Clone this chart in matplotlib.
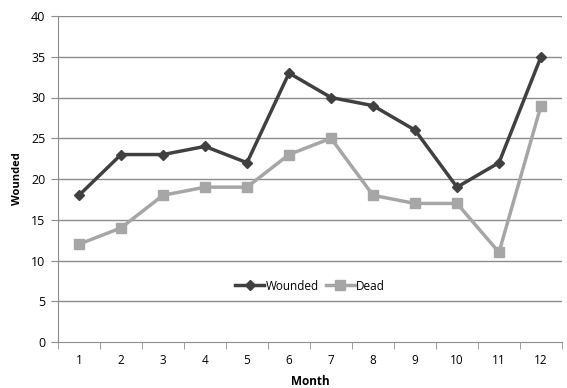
import numpy as np
import matplotlib.pyplot as plt

plt.rcParams['font.family'] = ['Open Sans', 'DejaVu Sans']

# Data
months = [1, 2, 3, 4, 5, 6, 7, 8, 9, 10, 11, 12]
wounded = [18, 23, 23, 24, 22, 33, 30, 29, 26, 19, 22, 35]
dead = [12, 14, 18, 19, 19, 23, 25, 18, 17, 17, 11, 29]
yticks = [0, 5, 10, 15, 20, 25, 30, 35, 40]

fig = plt.figure(figsize=(5.67, 3.88), dpi=100)
ax = fig.add_axes([58 / 567, 1 - 342 / 388, 504 / 567, 326 / 388])

grid_col = '#8c8c8c'
for y in yticks[1:]:
    ax.axhline(y, color=grid_col, lw=1.0, zorder=1)

ax.plot(months, wounded, color='#404040', lw=2.5, marker='D', ms=5.5,
        label='Wounded', zorder=3)
ax.plot(months, dead, color='#a6a6a6', lw=2.5, marker='s', ms=7,
        label='Dead', zorder=2)

ax.set_xlim(0.5, 12.5)
ax.set_ylim(0, 40)
ax.set_yticks(yticks)
ax.set_xticks(months)
ax.set_xticks(np.arange(0.5, 13, 1), minor=True)
ax.tick_params(axis='x', which='major', length=0, pad=9, labelsize=8.5)
ax.tick_params(axis='x', which='minor', length=5, color=grid_col, direction='out')
ax.tick_params(axis='y', length=5, color=grid_col, pad=4, labelsize=9)

for side in ['top', 'right']:
    ax.spines[side].set_visible(False)
for side in ['left', 'bottom']:
    ax.spines[side].set_color(grid_col)

ax.set_ylabel('Wounded', fontweight='bold', fontsize=8)
ax.yaxis.set_label_coords(-0.07, 0.5)
ax.set_xlabel('Month', fontweight='bold', fontsize=8.5)
ax.xaxis.set_label_coords(0.5, -0.1)

leg = ax.legend(loc='center', bbox_to_anchor=((310 - 58) / 504, (342 - 286) / 326),
                ncol=2, frameon=False, fontsize=8.5, handlelength=2.5,
                columnspacing=0.6, handletextpad=0.1)

fig.savefig('out.png', dpi=100)
